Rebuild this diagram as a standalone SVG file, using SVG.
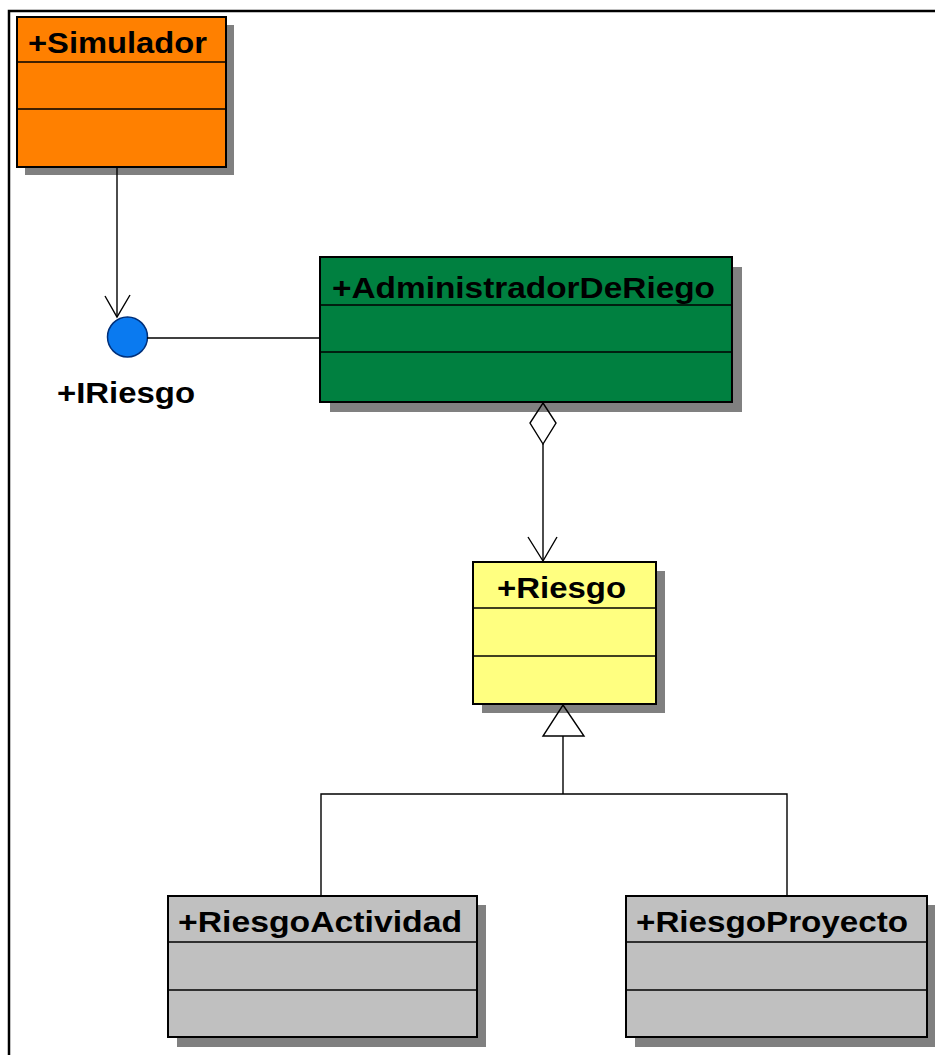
<svg xmlns="http://www.w3.org/2000/svg" width="935" height="1055" viewBox="0 0 935 1055">
<style>
.box{stroke:#000;stroke-width:2}
.sh{fill:#808080}
.sep{stroke:#000;stroke-width:1.6}
.t{font-family:"Liberation Sans",Arial,sans-serif;font-weight:bold;font-size:29px;fill:#000}
.c{fill:none;stroke:#000;stroke-width:1.4}
</style>
<rect width="935" height="1055" fill="#fff"/>
<path d="M9 1055V11H935" fill="none" stroke="#000" stroke-width="2.5"/>
<g id="simulador">
<rect class="sh" x="25" y="25" width="209" height="150"/>
<rect class="box" x="17" y="17" width="209" height="150" fill="#FF8000"/>
<line class="sep" x1="17" y1="62" x2="226" y2="62"/>
<line class="sep" x1="17" y1="109" x2="226" y2="109"/>
<text class="t" x="28" y="53" textLength="179" lengthAdjust="spacingAndGlyphs">+Simulador</text>
</g>
<g id="iriesgo">
<circle cx="127.5" cy="337" r="20" fill="#0A7AF0" stroke="#00307A" stroke-width="1.5"/>
<text class="t" x="57" y="403" textLength="138" lengthAdjust="spacingAndGlyphs">+IRiesgo</text>
</g>
<g id="administrador">
<rect class="sh" x="330" y="267" width="412" height="145"/>
<rect class="box" x="320" y="257" width="412" height="145" fill="#008040"/>
<line class="sep" x1="320" y1="305" x2="732" y2="305"/>
<line class="sep" x1="320" y1="352" x2="732" y2="352"/>
<text class="t" x="332" y="298" textLength="383" lengthAdjust="spacingAndGlyphs">+AdministradorDeRiego</text>
</g>
<g id="riesgo">
<rect class="sh" x="482" y="571" width="183" height="142"/>
<rect class="box" x="473" y="562" width="183" height="142" fill="#FFFF80"/>
<line class="sep" x1="473" y1="608" x2="656" y2="608"/>
<line class="sep" x1="473" y1="656" x2="656" y2="656"/>
<text class="t" x="497" y="598" textLength="129" lengthAdjust="spacingAndGlyphs">+Riesgo</text>
</g>
<g id="riesgoActividad">
<rect class="sh" x="177" y="905" width="309" height="142"/>
<rect class="box" x="168" y="896" width="309" height="141" fill="#C0C0C0"/>
<line class="sep" x1="168" y1="942" x2="477" y2="942"/>
<line class="sep" x1="168" y1="990" x2="477" y2="990"/>
<text class="t" x="178" y="932" textLength="284" lengthAdjust="spacingAndGlyphs">+RiesgoActividad</text>
</g>
<g id="riesgoProyecto">
<rect class="sh" x="635" y="905" width="301" height="142"/>
<rect class="box" x="626" y="896" width="301" height="141" fill="#C0C0C0"/>
<line class="sep" x1="626" y1="942" x2="927" y2="942"/>
<line class="sep" x1="626" y1="990" x2="927" y2="990"/>
<text class="t" x="636" y="932" textLength="272" lengthAdjust="spacingAndGlyphs">+RiesgoProyecto</text>
</g>
<g id="connectors">
<line class="c" x1="117" y1="168" x2="117" y2="317"/>
<polyline class="c" points="105,296 117,317 130,295"/>
<line class="c" x1="147" y1="338" x2="319" y2="338"/>
<polygon class="c" fill="#fff" points="543,403 556,423 543,444 530,423"/>
<line class="c" x1="543" y1="444" x2="543" y2="561"/>
<polyline class="c" points="528,537 543,561 557,537"/>
<polygon class="c" fill="#fff" points="563,705 584,736 543,736"/>
<polyline class="c" points="563,736 563,794"/>
<polyline class="c" points="321,895 321,794 787,794 787,895"/>
</g>
</svg>
